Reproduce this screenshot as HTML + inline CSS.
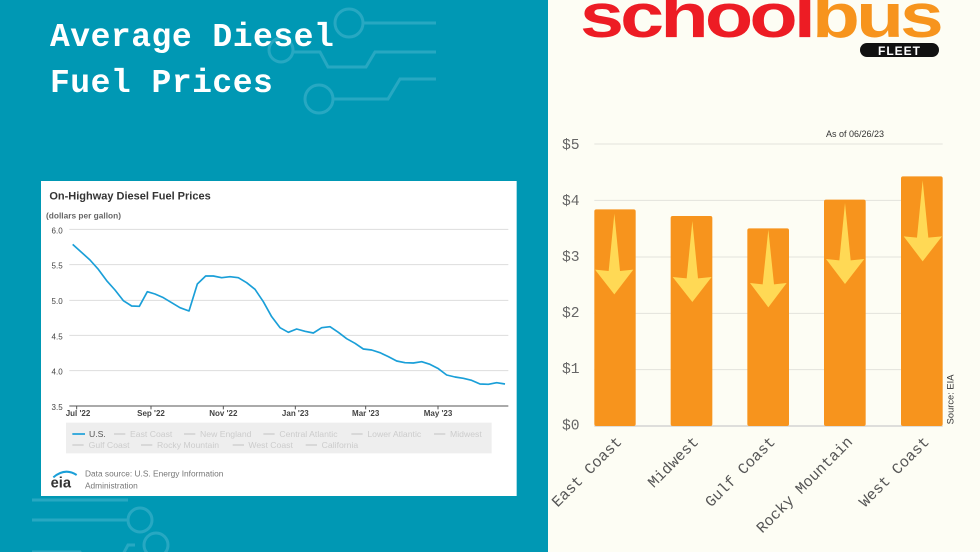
<!DOCTYPE html>
<html><head><meta charset="utf-8"><style>
body{margin:0;width:980px;height:552px;overflow:hidden;position:relative;font-family:"Liberation Sans",sans-serif}
#l{position:absolute;left:0;top:0;width:548px;height:552px;background:#0098b4}
#r{position:absolute;left:548px;top:0;width:432px;height:552px;background:#fdfdf4}
.t{position:absolute;left:50px;color:#fff;font:bold 33px "Liberation Mono",monospace;letter-spacing:0.5px}
svg{position:absolute}
</style></head><body>
<div id="l"></div><div id="r"></div>
<svg style="left:0;top:0" width="548" height="552" viewBox="0 0 548 552" fill="none" stroke="#27a8c2" stroke-width="3">
<circle cx="349" cy="23" r="14"/><path d="M363 23H436"/>
<circle cx="281" cy="50" r="12"/><path d="M293 52H320L328 67H366L375 52H436"/>
<circle cx="319" cy="99" r="14"/><path d="M333 99H388L400 79H436"/>
<circle cx="140" cy="520" r="12"/><path d="M32 520H128M32 500H128"/>
<circle cx="156" cy="545" r="12"/><path d="M32 552H80L86 562M135 545H128L120 560"/>
</svg>
<div class="t" style="top:19px">Average Diesel</div>
<div class="t" style="top:65px">Fuel Prices</div>

<svg style="left:40px;top:180px" width="480" height="320" viewBox="0 0 1440 960">
<rect x="3" y="3" width="1427" height="945" fill="#fff"/>
<text x="28" y="58" font-size="33" font-weight="bold" fill="#333">On-Highway Diesel Fuel Prices</text>
<text x="18" y="116" font-size="25" font-weight="bold" fill="#666">(dollars per gallon)</text>
<g stroke="#ddd" stroke-width="3">
<path d="M88 148H1405M88 254H1405M88 361H1405M88 466H1405M88 572H1405"/></g>
<path d="M88 678H1405" stroke="#555" stroke-width="3"/>
<g stroke="#555" stroke-width="3"><path d="M110 678v10M333 678v10M550 678v10M766 678v10M977 678v10M1194 678v10"/></g>
<g font-size="24" fill="#444" text-anchor="end"><text x="68" y="160">6.0</text><text x="68" y="266">5.5</text><text x="68" y="372">5.0</text><text x="68" y="478">4.5</text><text x="68" y="584">4.0</text><text x="68" y="690">3.5</text></g>
<g font-size="24" font-weight="bold" fill="#444" text-anchor="middle"><text x="114" y="708">Jul '22</text><text x="333" y="708">Sep '22</text><text x="550" y="708">Nov '22</text><text x="766" y="708">Jan '23</text><text x="977" y="708">Mar '23</text><text x="1194" y="708">May '23</text></g>
<polyline fill="none" stroke="#1a9fd8" stroke-width="5" stroke-linejoin="round" points="98,193 150,240 175,268 200,302 225,330 250,362 275,378 298,379 322,335 345,342 370,353 395,368 420,383 447,393 472,312 497,288 520,288 545,293 570,290 595,293 620,308 645,328 670,365 695,410 720,443 745,457 770,447 795,454 820,459 845,443 870,440 895,457 920,476 945,490 970,507 995,510 1020,518 1045,530 1070,543 1095,548 1120,549 1145,545 1170,553 1195,566 1220,585 1245,591 1270,595 1295,601 1320,612 1345,613 1370,608 1395,612"/>
<rect x="78" y="728" width="1277" height="92" fill="#eee"/>
<g font-size="26" fill="#ccc">
<path d="M97 762h38" stroke="#1a9fd8" stroke-width="5"/><text x="147" y="771" fill="#555">U.S.</text>
<path d="M222 762h34M432 762h34M670 762h34M934 762h34M1182 762h34M97 795h34M303 795h34M578 795h34M797 795h34" stroke="#ccc" stroke-width="4"/>
<text x="270" y="771">East Coast</text><text x="480" y="771">New England</text><text x="718" y="771">Central Atlantic</text><text x="982" y="771">Lower Atlantic</text><text x="1230" y="771">Midwest</text>
<text x="146" y="804">Gulf Coast</text><text x="351" y="804">Rocky Mountain</text><text x="625" y="804">West Coast</text><text x="845" y="804">California</text></g>
<text x="32" y="922" font-size="44" font-weight="bold" fill="#333">eia</text>
<path d="M40 892Q75 862 110 885" stroke="#1a9fd8" stroke-width="6" fill="none"/>
<text x="135" y="890" font-size="25" fill="#777">Data source: U.S. Energy Information</text>
<text x="135" y="925" font-size="25" fill="#777">Administration</text>
</svg>

<svg style="left:550px;top:0" width="430" height="170" viewBox="0 0 430 170">
<text x="30" y="37" font-size="62" font-weight="bold" fill="#ed1c24" letter-spacing="-3" textLength="232" lengthAdjust="spacingAndGlyphs">school</text>
<text x="262" y="37" font-size="62" font-weight="bold" fill="#f7941d" letter-spacing="-3" textLength="128" lengthAdjust="spacingAndGlyphs">bus</text>
<rect x="310" y="43" width="79" height="14" rx="7" fill="#111"/>
<text x="349.5" y="55" font-size="12" font-weight="bold" fill="#fff" text-anchor="middle" letter-spacing="1">FLEET</text>
<text x="276" y="137" font-size="9" fill="#333">As of 06/26/23</text>
</svg>

<svg style="left:550px;top:120px" width="430" height="432" viewBox="0 -150 1290 1290">
<g stroke="#e2e2dc" stroke-width="3"><path d="M133 -81H1178M133 88H1178M133 258H1178M133 427H1178M133 596H1178"/></g>
<path d="M133 765H1178" stroke="#ccc" stroke-width="4"/>
<g font-family="Liberation Mono,monospace" font-size="44" fill="#666"><text x="36" y="-66">$5</text><text x="36" y="102">$4</text><text x="36" y="270">$3</text><text x="36" y="438">$2</text><text x="36" y="606">$1</text><text x="36" y="775">$0</text></g>
<g fill="#f7941d">
<rect x="133" y="115" width="124" height="650" rx="6"/><rect x="362" y="135" width="125" height="630" rx="6"/><rect x="592" y="172" width="125" height="593" rx="6"/><rect x="822" y="86" width="125" height="679" rx="6"/><rect x="1053" y="16" width="125" height="749" rx="6"/></g>
<g fill="#ffd955">
<path d="M193 128L210 300L250 296L193 370L135 296L176 300Z"/>
<path d="M427 150L444 322L485 318L427 393L368 318L410 322Z"/>
<path d="M655 176L672 340L710 336L655 409L600 336L638 340Z"/>
<path d="M885 96L902 268L943 264L885 339L828 264L868 268Z"/>
<path d="M1118 28L1135 200L1176 196L1118 271L1061 196L1101 200Z"/></g>
<text transform="translate(1210,760) rotate(-90)" font-size="28" fill="#333">Source: EIA</text>
<g font-family="Liberation Mono,monospace" font-size="46" fill="#555" text-anchor="end">
<text transform="translate(218,815) rotate(-45)">East Coast</text>
<text transform="translate(448,815) rotate(-45)">Midwest</text>
<text transform="translate(678,815) rotate(-45)">Gulf Coast</text>
<text transform="translate(910,815) rotate(-45)">Rocky Mountain</text>
<text transform="translate(1140,815) rotate(-45)">West Coast</text></g>
</svg>
</body></html>
